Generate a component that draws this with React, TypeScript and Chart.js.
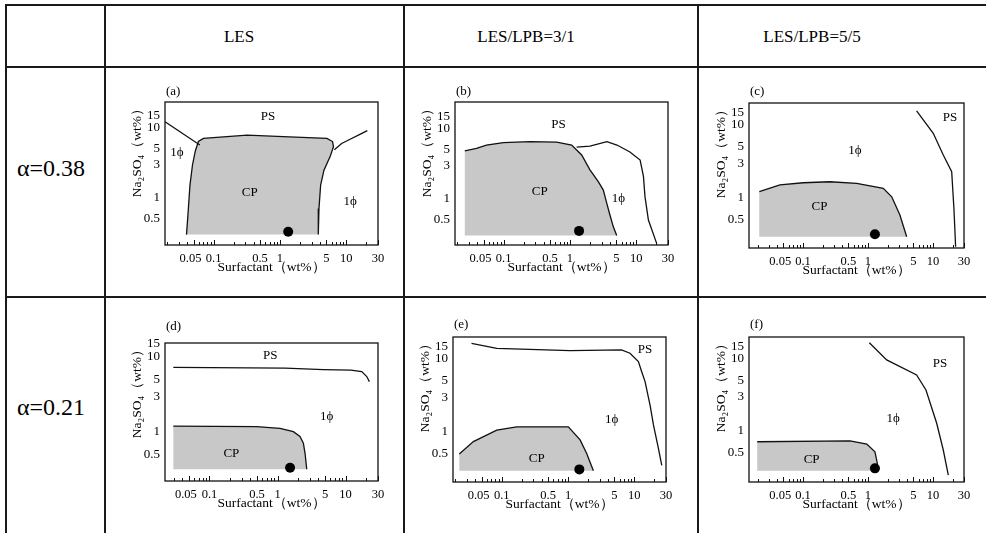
import React, { useEffect, useRef } from 'react';
import { Chart, registerables } from 'chart.js';

Chart.register(...registerables);

type Pt = [number, number];
type Label = { text: string; x: number; y: number };

const SERIF = '"Liberation Serif", "Times New Roman", serif';

// ---------- axis ticks ----------
const X_TICK_LABELS = [0.05, 0.1, 0.5, 1, 5, 10, 30];
const X_MINOR_TICKS = [0.02, 0.03, 0.04, 0.06, 0.07, 0.08, 0.09, 0.2, 0.3, 0.4, 0.6, 0.7, 0.8, 0.9, 2, 3, 4, 6, 7, 8, 9, 20];
const Y_TICK_LABELS = [0.5, 1, 3, 5, 10, 15];

const COLUMN_HEADERS = ['LES', 'LES/LPB=3/1', 'LES/LPB=5/5'];
const ROW_HEADERS = ['α=0.38', 'α=0.21'];

// ---------- (a) LES, α=0.38 ----------
const aCP: Pt[] = [[0.039, 0.3], [0.041, 0.57], [0.044, 1.53], [0.048, 2.96], [0.053, 4.7], [0.059, 6.4], [0.07, 7.1], [0.32, 7.9], [1.12, 7.5], [5.1, 7.1], [6.2, 6.4], [6.4, 5.4], [5.7, 3.9], [4.6, 2.5], [4.1, 1.53], [3.87, 0.71], [3.78, 0.3]];
const aPSLeft: Pt[] = [[0.0185, 12.3], [0.062, 5.7]];
const aPSRight: Pt[] = [[6.6, 4.9], [8.5, 6.0], [11.4, 6.9], [16, 8.1], [20.7, 9.15]];
const aDot: Pt[] = [[1.33, 0.33]];
const aTexts: Label[] = [{ text: 'PS', x: 0.66, y: 14.4 }, { text: '1ϕ', x: 0.028, y: 4.5 }, { text: 'CP', x: 0.35, y: 1.18 }, { text: '1ϕ', x: 11.4, y: 0.88 }];

// ---------- (b) LES/LPB=3/1, α=0.38 ----------
const bCP: Pt[] = [[0.026, 0.3], [0.026, 4.85], [0.039, 5.3], [0.055, 5.9], [0.099, 6.4], [0.25, 6.6], [0.63, 6.5], [1.06, 5.9], [1.5, 4.25], [2.0, 2.6], [2.67, 1.77], [3.18, 1.34], [3.58, 0.87], [4.0, 0.59], [4.5, 0.4], [5.06, 0.3]];
const bPS: Pt[] = [[1.26, 5.5], [2.0, 5.7], [3.6, 6.6], [5.1, 5.9], [8.0, 4.7], [11.4, 3.6], [12.8, 2.1], [13.5, 1.08], [15.2, 0.5], [20.3, 0.23]];
const bDot: Pt[] = [[1.37, 0.35]];
const bTexts: Label[] = [{ text: 'PS', x: 0.67, y: 11.4 }, { text: 'CP', x: 0.35, y: 1.27 }, { text: '1ϕ', x: 5.35, y: 1.02 }];

// ---------- (c) LES/LPB=5/5, α=0.38 ----------
const cCP: Pt[] = [[0.0213, 0.295], [0.0213, 1.22], [0.0443, 1.51], [0.101, 1.62], [0.26, 1.67], [0.67, 1.59], [1.72, 1.36], [2.32, 1.04], [3.1, 0.585], [3.94, 0.295]];
const cPS: Pt[] = [[5.6, 15.6], [10.1, 7.7], [14.4, 3.88], [19.4, 2.29], [21, 0.72], [22.3, 0.215]];
const cDot: Pt[] = [[1.28, 0.32]];
const cTexts: Label[] = [{ text: 'PS', x: 18.3, y: 12.6 }, { text: '1ϕ', x: 0.63, y: 4.4 }, { text: 'CP', x: 0.18, y: 0.76 }];

// ---------- (d) LES, α=0.21 ----------
const dCP: Pt[] = [[0.0294, 0.318], [0.0294, 1.2], [0.49, 1.18], [1.09, 1.12], [1.71, 1.01], [2.14, 0.87], [2.4, 0.71], [2.54, 0.52], [2.69, 0.318]];
const dPS: Pt[] = [[0.0294, 7.3], [1.3, 7.1], [4.7, 6.8], [12, 6.7], [17.3, 6.4], [20.5, 5.5], [22.4, 4.7]];
const dDot: Pt[] = [[1.53, 0.334]];
const dTexts: Label[] = [{ text: 'PS', x: 0.78, y: 10.6 }, { text: '1ϕ', x: 5.3, y: 1.6 }, { text: 'CP', x: 0.21, y: 0.52 }];

// ---------- (e) LES/LPB=3/1, α=0.21 ----------
const eCP: Pt[] = [[0.0229, 0.295], [0.0229, 0.5], [0.0373, 0.74], [0.084, 1.06], [0.168, 1.18], [1.01, 1.18], [1.52, 0.78], [1.91, 0.51], [2.41, 0.295]];
const ePS: Pt[] = [[0.035, 16.4], [0.084, 14.0], [1.07, 13.0], [6.4, 13.3], [8.6, 12], [11.5, 9.2], [12.9, 6.7], [14.5, 4.9], [17.3, 2.3], [19.4, 1.25], [23, 0.6], [25.9, 0.35]];
const eDot: Pt[] = [[1.48, 0.308]];
const eTexts: Label[] = [{ text: 'PS', x: 14.5, y: 13.3 }, { text: '1ϕ', x: 4.56, y: 1.46 }, { text: 'CP', x: 0.337, y: 0.436 }];

// ---------- (f) LES/LPB=5/5, α=0.21 ----------
const fCP: Pt[] = [[0.0198, 0.281], [0.0198, 0.71], [0.53, 0.73], [0.96, 0.66], [1.28, 0.515], [1.39, 0.36], [1.39, 0.281]];
const fPS: Pt[] = [[1.05, 16.8], [1.94, 9.7], [5.6, 6.0], [7.8, 3.71], [11.4, 1.28], [14.4, 0.545], [17.2, 0.245]];
const fDot: Pt[] = [[1.28, 0.303]];
const fTexts: Label[] = [{ text: 'PS', x: 12.8, y: 8.7 }, { text: '1ϕ', x: 2.45, y: 1.5 }, { text: 'CP', x: 0.136, y: 0.405 }];

interface PanelSpec {
  tag: string;
  region: Pt[];
  outlineFrom: number;
  lines: Pt[][];
  dot: Pt[];
  texts: Label[];
  xRange: [number, number];
  yRange: [number, number];
  box: { left: number; top: number; right: number; bottom: number };
  tagDy: number;
}

const PANELS: PanelSpec[] = [
  { tag: '(a)', region: aCP, outlineFrom: 0, lines: [aPSLeft, aPSRight], dot: aDot, texts: aTexts, xRange: [0.0185, 30], yRange: [0.213, 23.5], box: { left: 165, top: 102, right: 378, bottom: 245 }, tagDy: 10 },
  { tag: '(b)', region: bCP, outlineFrom: 1, lines: [bPS], dot: bDot, texts: bTexts, xRange: [0.0185, 30], yRange: [0.22, 24.3], box: { left: 455, top: 102, right: 668, bottom: 245 }, tagDy: 10 },
  { tag: '(c)', region: cCP, outlineFrom: 1, lines: [cPS], dot: cDot, texts: cTexts, xRange: [0.0148, 30], yRange: [0.207, 20], box: { left: 749, top: 103, right: 964, bottom: 248 }, tagDy: 11 },
  { tag: '(d)', region: dCP, outlineFrom: 1, lines: [dPS], dot: dDot, texts: dTexts, xRange: [0.0222, 30], yRange: [0.222, 15.4], box: { left: 165, top: 343, right: 378, bottom: 481 }, tagDy: 16 },
  { tag: '(e)', region: eCP, outlineFrom: 1, lines: [ePS], dot: eDot, texts: eTexts, xRange: [0.0184, 30], yRange: [0.207, 20], box: { left: 453, top: 337, right: 666, bottom: 482 }, tagDy: 12 },
  { tag: '(f)', region: fCP, outlineFrom: 1, lines: [fPS], dot: fDot, texts: fTexts, xRange: [0.0148, 30], yRange: [0.196, 20.2], box: { left: 749, top: 337, right: 964, bottom: 482 }, tagDy: 12 },
];

const Y_W = 42;
const PAD_T = 26;
const PAD_R = 14;
const X_H = 34;

const toXY = (pts: Pt[]) => pts.map(([x, y]) => ({ x, y }));

const decorPlugin = {
  id: 'decor',
  afterDatasetsDraw(chart: any, _args: any, opts: any) {
    const { ctx, chartArea: ca, scales } = chart;
    ctx.save();
    // inward tick marks along the bottom axis
    ctx.strokeStyle = '#111';
    ctx.lineWidth = 1;
    for (const v of opts.xTicks as number[]) {
      const px = Math.round(scales.x.getPixelForValue(v)) + 0.5;
      const len = X_TICK_LABELS.includes(v) ? 5 : 3;
      ctx.beginPath();
      ctx.moveTo(px, ca.bottom);
      ctx.lineTo(px, ca.bottom - len);
      ctx.stroke();
    }
    // frame
    ctx.lineWidth = 1.3;
    ctx.strokeRect(ca.left, ca.top, ca.right - ca.left, ca.bottom - ca.top);
    // region labels
    ctx.fillStyle = '#000';
    ctx.font = `13px ${SERIF}`;
    ctx.textAlign = 'center';
    ctx.textBaseline = 'middle';
    for (const t of opts.texts as Label[]) {
      ctx.fillText(t.text, scales.x.getPixelForValue(t.x), scales.y.getPixelForValue(t.y));
    }
    // panel tag
    ctx.textAlign = 'left';
    ctx.font = `13px ${SERIF}`;
    ctx.fillText(opts.tag, ca.left + 1, ca.top - opts.tagDy);
    ctx.restore();
  },
};

function Panel({ spec }: { spec: PanelSpec }) {
  const ref = useRef<HTMLCanvasElement>(null);
  const w = spec.box.right - spec.box.left + Y_W + PAD_R;
  const h = spec.box.bottom - spec.box.top + PAD_T + X_H;

  useEffect(() => {
    const [xMin, xMax] = spec.xRange;
    const [yMin, yMax] = spec.yRange;
    const xTicks = [...X_MINOR_TICKS, ...X_TICK_LABELS].filter((v) => v >= xMin && v <= xMax).sort((a, b) => a - b);
    const xLabelTicks = X_TICK_LABELS.filter((v) => v >= xMin && v <= xMax);
    const yTicks = Y_TICK_LABELS.filter((v) => v >= yMin && v <= yMax);

    const datasets: any[] = [
      { type: 'line', data: toXY(spec.dot), showLine: false, pointRadius: 5, pointBackgroundColor: '#000', pointBorderColor: '#000', pointBorderWidth: 0, order: 0 },
      ...spec.lines.map((l) => ({ type: 'line', data: toXY(l), borderColor: '#111', borderWidth: 1.3, pointRadius: 0, fill: false, tension: 0, order: 1 })),
      { type: 'line', data: toXY(spec.region.slice(spec.outlineFrom)), borderColor: '#111', borderWidth: 1.3, pointRadius: 0, fill: false, tension: 0, order: 1 },
      { type: 'line', data: toXY(spec.region), borderColor: 'rgba(0,0,0,0)', borderWidth: 0, backgroundColor: '#c8c8c8', pointRadius: 0, fill: 'shape', tension: 0, order: 2 },
    ];

    const chart = new Chart(ref.current as HTMLCanvasElement, {
      type: 'line',
      data: { datasets },
      options: {
        responsive: false,
        animation: false,
        devicePixelRatio: 1,
        layout: { padding: { left: 0, top: PAD_T, right: PAD_R, bottom: 0 } },
        plugins: {
          legend: { display: false },
          tooltip: { enabled: false },
          decor: { texts: spec.texts, tag: spec.tag, tagDy: spec.tagDy, xTicks },
        } as any,
        scales: {
          x: {
            type: 'logarithmic',
            position: 'bottom',
            min: xMin,
            max: xMax,
            bounds: 'data',
            afterBuildTicks: (s: any) => { s.ticks = xLabelTicks.map((v) => ({ value: v })); },
            afterFit: (s: any) => { s.height = X_H; },
            ticks: {
              autoSkip: false,
              maxRotation: 0,
              minRotation: 0,
              padding: 6,
              color: '#000',
              font: { family: SERIF, size: 12.5 },
              // a little trailing space keeps "0.05" from touching "0.1"
              callback: (v: any) => (Number(v) === 0.05 ? '0.05  ' : String(v)),
            },
            grid: { display: false, drawTicks: false },
            border: { display: false },
            title: { display: true, text: 'Surfactant（wt%）', color: '#000', font: { family: SERIF, size: 13.5 }, padding: { top: 0, bottom: 3 } },
          },
          y: {
            type: 'logarithmic',
            position: 'left',
            min: yMin,
            max: yMax,
            bounds: 'data',
            afterBuildTicks: (s: any) => { s.ticks = yTicks.map((v) => ({ value: v })); },
            afterFit: (s: any) => { s.width = Y_W; },
            ticks: {
              autoSkip: false,
              padding: 5,
              color: '#000',
              font: { family: SERIF, size: 13 },
              callback: (v: any) => String(v),
            },
            grid: { display: false, drawTicks: false },
            border: { display: false },
            title: { display: true, text: 'Na₂SO₄（wt%）', align: 'end', color: '#000', font: { family: SERIF, size: 13.5 }, padding: { top: 6, bottom: 0 } },
          },
        } as any,
      },
      plugins: [decorPlugin],
    } as any);
    return () => chart.destroy();
  }, []);

  return (
    <canvas
      ref={ref}
      width={w}
      height={h}
      style={{ position: 'absolute', left: spec.box.left - Y_W, top: spec.box.top - PAD_T, width: w, height: h }}
    />
  );
}

const LINE = '#1a1a1a';

export default function App() {
  useEffect(() => {
    document.body.style.margin = '0';
  }, []);
  const hLine = (top: number, th = 2) => (
    <div style={{ position: 'absolute', left: 5, top, width: 981, height: th, background: LINE }} />
  );
  const vLine = (left: number, th = 2) => (
    <div style={{ position: 'absolute', left, top: 4, width: th, height: 529, background: LINE }} />
  );
  const headerCenters = [239, 526, 812];
  const rowCenters = [168, 407];
  return (
    <div style={{ position: 'absolute', left: 0, top: 0, width: 986, height: 533, overflow: 'hidden', background: '#fff', fontFamily: SERIF }}>
      {hLine(4)}
      {hLine(66)}
      {hLine(296)}
      {vLine(5)}
      {vLine(104, 1.5)}
      {vLine(403, 1.5)}
      {vLine(697, 1.5)}
      {COLUMN_HEADERS.map((t, i) => (
        <div key={t} style={{ position: 'absolute', left: headerCenters[i], top: 37, transform: 'translate(-50%, -50%)', fontSize: 17, whiteSpace: 'nowrap', color: '#000' }}>{t}</div>
      ))}
      {ROW_HEADERS.map((t, i) => (
        <div key={t} style={{ position: 'absolute', left: 17, top: rowCenters[i], transform: 'translateY(-50%)', fontSize: 24, whiteSpace: 'nowrap', color: '#000' }}>{t}</div>
      ))}
      {PANELS.map((p) => (
        <Panel key={p.tag} spec={p} />
      ))}
    </div>
  );
}
